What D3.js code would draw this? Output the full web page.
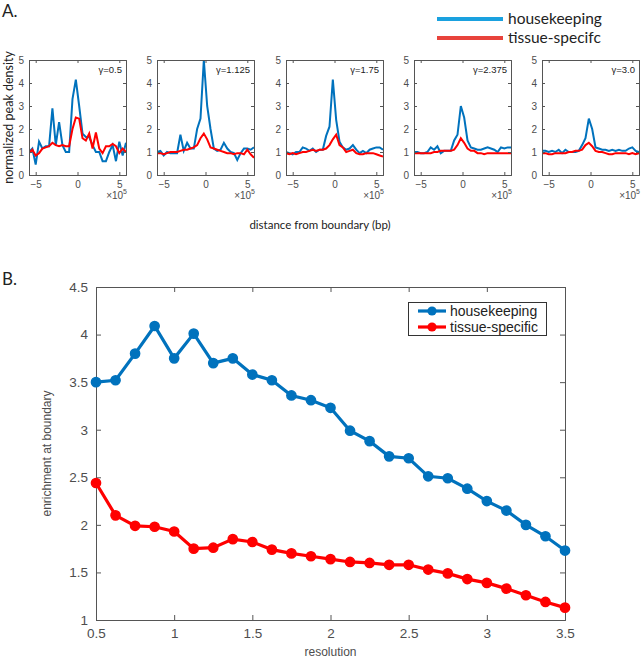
<!DOCTYPE html>
<html><head><meta charset="utf-8">
<script src="https://cdn.jsdelivr.net/npm/d3@7"></script>
<style>body{margin:0;background:#fff}svg{display:block}</style>
</head><body>
<svg id="c" width="641" height="661"></svg>
<script>
// ---------- Panel A data ----------
const binCenters = [-5.8,-5.4,-5.0,-4.6,-4.2,-3.8,-3.4,-3.0,-2.6,-2.2,-1.8,-1.4,-1.0,-0.6,-0.2,0.2,0.6,1.0,1.4,1.8,2.2,2.6,3.0,3.4,3.8,4.2,4.6,5.0,5.4,5.8];
const gammaLabels = ["γ=0.5","γ=1.125","γ=1.75","γ=2.375","γ=3.0"];
const hkA1 = [1.0,1.15,0.45,1.45,1.15,1.25,1.25,2.9,1.3,2.3,1.3,1.0,1.0,3.3,4.15,3.0,1.8,1.65,1.65,1.3,1.0,1.0,0.6,0.6,1.0,1.3,0.6,1.45,0.85,1.4];
const tsA1 = [0.95,1.1,0.85,0.95,1.15,1.2,1.25,1.4,1.3,1.25,1.3,1.25,1.25,2.0,2.5,2.45,1.6,1.5,1.8,1.15,1.85,1.15,0.95,1.25,1.25,1.35,1.25,0.95,1.15,1.0];
const hkA2 = [1.0,1.05,0.85,1.0,0.95,0.95,0.95,1.75,1.05,1.4,1.15,1.15,2.0,2.45,5.0,3.0,2.0,1.15,1.05,1.1,1.4,1.15,1.0,0.95,0.65,0.95,1.15,1.15,1.1,1.2];
const tsA2 = [0.95,0.95,0.9,0.95,1.0,1.0,1.0,1.05,1.1,1.1,1.15,1.2,1.3,1.6,1.8,1.55,1.2,1.15,1.1,1.05,1.0,0.95,0.95,0.9,0.95,0.95,0.9,1.1,0.9,0.75];
const hkA3 = [1.0,0.95,0.9,1.0,1.0,1.2,1.15,1.05,1.15,1.0,1.1,1.1,1.7,2.1,4.15,2.4,1.45,1.2,1.1,1.15,1.3,1.1,0.95,1.05,0.95,1.1,1.15,1.2,1.2,1.1];
const tsA3 = [0.95,0.9,0.95,0.9,0.95,1.0,1.0,1.05,1.1,1.05,1.1,1.1,1.15,1.3,1.55,1.75,1.3,1.2,1.0,1.05,1.1,0.95,0.9,0.9,0.95,0.95,0.95,0.9,0.85,0.8];
const hkA4 = [1.0,1.0,0.95,0.95,1.0,1.2,1.1,1.25,0.95,1.05,1.05,1.05,1.5,1.75,3.0,2.5,1.5,1.2,1.15,1.1,1.1,1.15,1.2,1.15,1.1,1.0,1.2,1.15,1.2,1.2];
const tsA4 = [0.95,0.95,0.95,0.95,0.95,0.95,1.0,1.0,1.05,1.05,1.05,1.05,1.1,1.3,1.6,1.4,1.15,1.05,1.05,0.95,0.95,0.9,0.95,0.95,0.95,0.95,0.95,0.95,0.95,0.95];
const hkA5 = [1.05,1.05,1.0,1.05,1.0,1.1,0.95,1.1,1.0,1.0,1.0,1.05,1.3,1.6,2.45,2.0,1.2,1.15,1.1,1.1,1.05,1.1,1.05,1.1,1.05,1.05,1.15,1.2,1.05,1.0];
const tsA5 = [0.95,0.95,0.9,0.9,0.95,0.95,0.95,0.95,1.0,1.0,1.05,1.05,1.1,1.3,1.4,1.25,1.05,1.0,1.0,0.95,0.9,0.9,0.95,0.95,0.95,0.95,0.9,0.95,0.9,0.95];
const hkA = [hkA1,hkA2,hkA3,hkA4,hkA5];
const tsA = [tsA1,tsA2,tsA3,tsA4,tsA5];
const aYTicks = [0,1,2,3,4,5];
const aXTicks = [-5,0,5];

// ---------- Panel B data ----------
const resolution = [0.5,0.625,0.75,0.875,1.0,1.125,1.25,1.375,1.5,1.625,1.75,1.875,2.0,2.125,2.25,2.375,2.5,2.625,2.75,2.875,3.0,3.125,3.25,3.375,3.5];
const housekeeping = [3.5,3.52,3.8,4.09,3.75,4.01,3.70,3.75,3.58,3.52,3.36,3.31,3.23,2.99,2.88,2.72,2.70,2.51,2.49,2.38,2.25,2.15,2.00,1.88,1.73];
const tissueSpecific = [2.44,2.10,1.99,1.98,1.93,1.75,1.76,1.85,1.82,1.74,1.70,1.67,1.64,1.61,1.60,1.58,1.58,1.53,1.49,1.43,1.39,1.33,1.26,1.19,1.13];
const bXTicks = [0.5,1,1.5,2,2.5,3,3.5];
const bYTicks = [1,1.5,2,2.5,3,3.5,4,4.5];

const svg = d3.select("#c");
const BLUE = "#0072BD", RED = "#FF0000", AX = "#4d4d4d";
const helv = "'Liberation Sans', Arial, sans-serif";
const avenir = "Lato, 'Open Sans', sans-serif";

// ---------- Panel A ----------
svg.append("text").attr("x",2).attr("y",17).attr("font-family",avenir).attr("font-size",17).attr("fill","#222").text("A.");

// top legend
const lg = [["housekeeping","#1aa1df",19],["tissue-specifc","#e8433c",38]];
lg.forEach(([t,c,y])=>{
  svg.append("line").attr("x1",437).attr("x2",503).attr("y1",y).attr("y2",y).attr("stroke",c).attr("stroke-width",4);
  svg.append("text").attr("x",508).attr("y",y+5).attr("font-family",avenir).attr("font-size",15.5).attr("fill","#222").text(t);
});

const panelLefts = [29,157,286,414,542];
const pw = 97, pTop = 60, pBot = 175;
const ay = d3.scaleLinear().domain([0,5]).range([pBot,pTop]);

panelLefts.forEach((L,i)=>{
  const ax = d3.scaleLinear().domain([-5.8,5.8]).range([L,L+pw]);
  const g = svg.append("g");
  const cid = "clipA"+i;
  svg.append("clipPath").attr("id",cid).append("rect").attr("x",L).attr("y",pTop-1).attr("width",pw).attr("height",pBot-pTop+1);
  const line = d3.line().x((d,j)=>ax(binCenters[j])).y(d=>ay(d));
  g.append("path").datum(hkA[i]).attr("d",line).attr("fill","none").attr("stroke",BLUE).attr("stroke-width",2).attr("clip-path",`url(#${cid})`);
  g.append("path").datum(tsA[i]).attr("d",line).attr("fill","none").attr("stroke",RED).attr("stroke-width",2).attr("clip-path",`url(#${cid})`);
  // axes
  const yl = d3.axisLeft(ay).tickValues(aYTicks).tickFormat(d3.format("d")).tickSize(-3).tickPadding(5);
  const yr = d3.axisRight(ay).tickValues(aYTicks).tickSize(-3).tickFormat("");
  const xb = d3.axisBottom(ax).tickValues(aXTicks).tickFormat(d3.format("d")).tickSize(-3).tickPadding(6);
  const xt = d3.axisTop(ax).tickValues(aXTicks).tickSize(-3).tickFormat("");
  const sty = s=>{s.selectAll("path,line").attr("stroke","#555");s.selectAll("text").attr("fill",AX).attr("font-family",helv).attr("font-size",10);};
  g.append("g").attr("transform",`translate(${L},0)`).call(yl).call(sty);
  g.append("g").attr("transform",`translate(${L+pw},0)`).call(yr).call(sty);
  g.append("g").attr("transform",`translate(0,${pBot})`).call(xb).call(sty);
  g.append("g").attr("transform",`translate(0,${pTop})`).call(xt).call(sty);
  g.selectAll(".domain").attr("stroke","#555");
  // exponent label
  const ex = g.append("text").attr("x",L+pw+1).attr("y",pBot+24).attr("text-anchor","end").attr("font-family",helv).attr("font-size",10).attr("fill",AX);
  ex.append("tspan").text("×10");
  ex.append("tspan").attr("dy",-5).attr("font-size",7).text("5");
  // gamma
  g.append("text").attr("x",L+pw-4).attr("y",pTop+13).attr("text-anchor","end").attr("font-family",helv).attr("font-size",9.5).attr("fill","#222").text(gammaLabels[i]);
});

svg.append("text").attr("transform",`translate(13,${(pTop+pBot)/2}) rotate(-90)`).attr("text-anchor","middle")
  .attr("font-family",avenir).attr("font-size",12.5).attr("fill","#222").text("normalized peak density");
svg.append("text").attr("x",320).attr("y",229).attr("text-anchor","middle")
  .attr("font-family",avenir).attr("font-size",11.5).attr("fill","#222").text("distance from boundary (bp)");

// ---------- Panel B ----------
svg.append("text").attr("x",2).attr("y",285).attr("font-family",avenir).attr("font-size",17).attr("fill","#222").text("B.");

const bL=96,bR=565,bT=287,bB=620;
const bx = d3.scaleLinear().domain([0.5,3.5]).range([bL,bR]);
const by = d3.scaleLinear().domain([1,4.5]).range([bB,bT]);
const gb = svg.append("g");
const styB = s=>{s.selectAll("path,line").attr("stroke","#555");s.selectAll("text").attr("fill",AX).attr("font-family",helv).attr("font-size",13.5);};
gb.append("g").attr("transform",`translate(${bL},0)`).call(d3.axisLeft(by).tickValues(bYTicks).tickFormat(d3.format("")).tickSize(-5).tickPadding(8)).call(styB);
gb.append("g").attr("transform",`translate(${bR},0)`).call(d3.axisRight(by).tickValues(bYTicks).tickSize(-5).tickFormat("")).call(styB);
gb.append("g").attr("transform",`translate(0,${bB})`).call(d3.axisBottom(bx).tickValues(bXTicks).tickFormat(d3.format("")).tickSize(-5).tickPadding(8)).call(styB);
gb.append("g").attr("transform",`translate(0,${bT})`).call(d3.axisTop(bx).tickValues(bXTicks).tickSize(-5).tickFormat("")).call(styB);

const seriesB = [[housekeeping,BLUE],[tissueSpecific,RED]];
const lineB = d3.line().x((d,j)=>bx(resolution[j])).y(d=>by(d));
seriesB.forEach(([vals,c])=>{
  gb.append("path").datum(vals).attr("d",lineB).attr("fill","none").attr("stroke",c).attr("stroke-width",3.2);
  gb.selectAll(null).data(vals).enter().append("circle")
    .attr("cx",(d,j)=>bx(resolution[j])).attr("cy",d=>by(d)).attr("r",4.6)
    .attr("fill",c).attr("stroke",c).attr("stroke-width",1.5);
});

// legend B
gb.append("rect").attr("x",408.5).attr("y",302.5).attr("width",138).attr("height",33).attr("fill","#fff").attr("stroke","#333").attr("stroke-width",1);
[["housekeeping",BLUE,311],["tissue-specific",RED,327]].forEach(([t,c,y])=>{
  gb.append("line").attr("x1",418).attr("x2",446).attr("y1",y).attr("y2",y).attr("stroke",c).attr("stroke-width",3.2);
  gb.append("circle").attr("cx",432).attr("cy",y).attr("r",4.6).attr("fill",c);
  gb.append("text").attr("x",450).attr("y",y+5).attr("font-family",helv).attr("font-size",14).attr("fill","#222").text(t);
});

svg.append("text").attr("transform",`translate(51,${(bT+bB)/2}) rotate(-90)`).attr("text-anchor","middle")
  .attr("font-family",helv).attr("font-size",12).attr("fill",AX).text("enrichment at boundary");
svg.append("text").attr("x",(bL+bR)/2).attr("y",656).attr("text-anchor","middle")
  .attr("font-family",helv).attr("font-size",12).attr("fill",AX).text("resolution");
</script>
</body></html>
